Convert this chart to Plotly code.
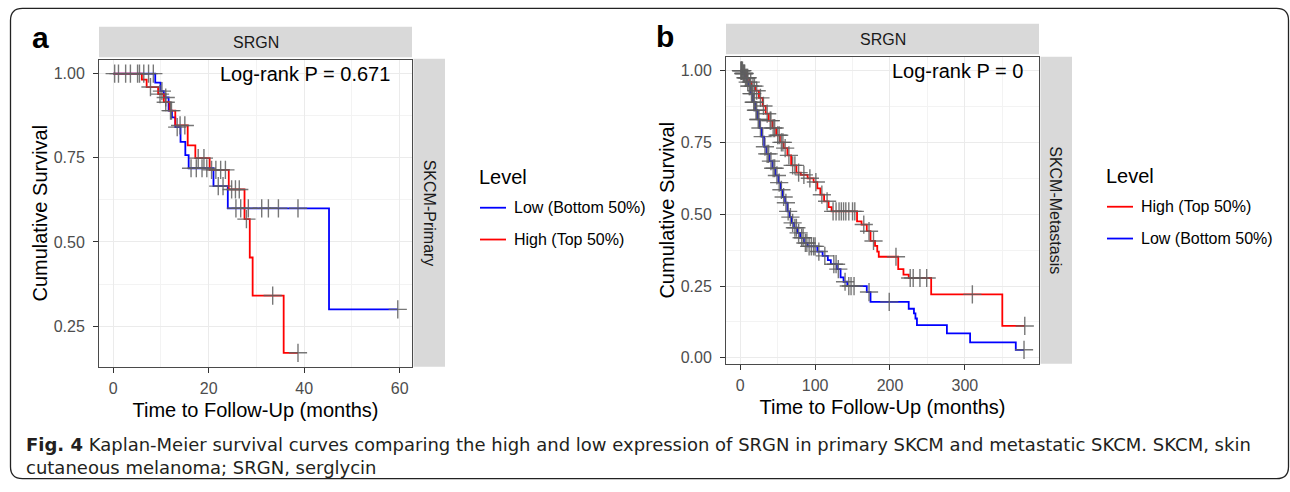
import plotly.graph_objects as go

W, H = 1290, 492

# ---------------- Data ----------------
# Panel a: SKCM-Primary (months, survival after each event)
a_low_t = [8.8, 9.9, 10.6, 11.6, 12.3, 13.0, 14.1, 15.1, 15.8, 21.0, 24.0, 45.2]
a_low_s = [0.973, 0.948, 0.929, 0.890, 0.870, 0.841, 0.797, 0.758, 0.719, 0.666, 0.600, 0.300]
a_low_cens = [0.3, 2.6, 5.1, 6.4, 7.4, 8.4, 10.2, 11.0, 12.0, 13.4, 16.3, 17.4, 18.6, 19.6,
              22.0, 23.0, 25.7, 26.7, 28.3, 31.1, 32.5, 34.6, 38.7, 59.6]

a_high_t = [6.0, 7.0, 9.4, 10.6, 11.8, 13.0, 15.6, 17.2, 20.2, 24.2, 27.5, 28.6, 29.2, 35.7]
a_high_s = [0.982, 0.960, 0.939, 0.915, 0.890, 0.846, 0.787, 0.749, 0.714, 0.656, 0.568,
            0.454, 0.341, 0.171]
a_high_cens = [1.1, 3.6, 5.5, 7.8, 9.8, 11.0, 12.2, 14.0, 15.0, 17.8, 19.0, 20.6, 21.5, 22.5,
               23.5, 24.8, 25.6, 26.4, 27.9, 33.4, 38.7]

# Panel b: SKCM-Metastasis
b_high_t = [4, 8, 12, 15, 20, 25, 30, 34, 38, 43, 48, 53, 58, 63, 68, 75, 81, 90, 98, 103,
            107, 112, 118, 122, 156, 162, 169, 174, 180, 183, 185, 211, 218, 225, 255, 350]
b_high_s = [0.990, 0.975, 0.960, 0.946, 0.930, 0.905, 0.877, 0.850, 0.826, 0.800, 0.775,
            0.750, 0.730, 0.705, 0.670, 0.645, 0.637, 0.625, 0.612, 0.590, 0.568, 0.545,
            0.525, 0.510, 0.475, 0.464, 0.441, 0.407, 0.390, 0.370, 0.352, 0.309, 0.290,
            0.278, 0.221, 0.111]
b_high_cens = [1, 2, 3, 5, 6, 9, 10, 14, 17, 19, 22, 27, 31, 36, 40, 41, 44, 46, 50, 52, 55,
               57, 60, 65, 70, 73, 78, 85, 93, 101, 109, 116, 124, 128, 132, 135, 138, 141,
               145, 150, 153, 165, 172, 178, 208, 227, 231, 240, 249, 310, 380]

b_low_t = [3, 6, 9, 11, 14, 17, 20, 23, 26, 29, 32, 35, 39, 43, 47, 51, 54, 57, 60, 63, 66,
           69, 72, 76, 80, 85, 90, 103, 110, 117, 121, 129, 134, 138, 143, 169, 174, 225,
           232, 234, 236, 276, 307, 368]
b_low_s = [0.990, 0.975, 0.960, 0.946, 0.920, 0.890, 0.862, 0.830, 0.800, 0.770, 0.735,
           0.710, 0.685, 0.660, 0.635, 0.610, 0.585, 0.560, 0.540, 0.510, 0.490, 0.470,
           0.453, 0.435, 0.418, 0.400, 0.388, 0.370, 0.355, 0.340, 0.326, 0.309, 0.280,
           0.265, 0.250, 0.229, 0.195, 0.171, 0.155, 0.137, 0.114, 0.085, 0.054, 0.028]
b_low_cens = [1, 2, 4, 5, 7, 8, 10, 12, 13, 15, 16, 18, 19, 21, 22, 24, 25, 27, 30, 33, 36,
              38, 41, 44, 46, 49, 52, 55, 58, 61, 64, 67, 70, 73, 75, 78, 82, 84, 87, 89, 92,
              95, 98, 100, 105, 113, 125, 128, 131, 140, 145, 148, 152, 172, 199, 379]

a_pvalue = "Log-rank P = 0.671"
b_pvalue = "Log-rank P = 0"
strip_top = "SRGN"
a_strip_right = "SKCM-Primary"
b_strip_right = "SKCM-Metastasis"
label_high = "High (Top 50%)"
label_low = "Low (Bottom 50%)"
x_title = "Time to Follow-Up (months)"
y_title = "Cumulative Survival"
a_xticks = [0, 20, 40, 60]
b_xticks = [0, 100, 200, 300]
a_yticks = [0.25, 0.50, 0.75, 1.00]
b_yticks = [0.00, 0.25, 0.50, 0.75, 1.00]

RED = "#FF0000"
BLUE = "#0000FF"
CENS = "rgba(95,95,95,0.85)"
FONT = "Liberation Sans, Arial, sans-serif"


def px(x):
    return x / W


def py(y):
    return 1 - y / H


def step_xy(times, surv, cens):
    t_end = max(max(cens), times[-1])
    xs = [0.0] + list(times) + [t_end]
    ys = [1.0] + list(surv) + [surv[-1]]
    return xs, ys


def surv_at(times, surv, t):
    s = 1.0
    for ti, si in zip(times, surv):
        if ti <= t:
            s = si
        else:
            break
    return s


fig = go.Figure()

groups = [
    ("x", "y", a_low_t, a_low_s, a_low_cens, BLUE, label_low),
    ("x", "y", a_high_t, a_high_s, a_high_cens, RED, label_high),
    ("x2", "y2", b_high_t, b_high_s, b_high_cens, RED, label_high),
    ("x2", "y2", b_low_t, b_low_s, b_low_cens, BLUE, label_low),
]
for xa, ya, t, s, c, col, name in groups:
    xs, ys = step_xy(t, s, c)
    fig.add_trace(go.Scatter(x=xs, y=ys, mode="lines", line=dict(color=col, width=1.8, shape="hv"),
                             name=name, xaxis=xa, yaxis=ya, showlegend=False, hoverinfo="skip"))
for xa, ya, t, s, c, col, name in groups:
    fig.add_trace(go.Scatter(x=c, y=[surv_at(t, s, ci) for ci in c], mode="markers",
                             marker=dict(symbol="cross-thin", size=13,
                                         line=dict(color=CENS, width=1.4), color=CENS),
                             xaxis=xa, yaxis=ya, showlegend=False, hoverinfo="skip"))


def xrange(*ts):
    m = max(max(v) for v in ts)
    return [-0.05 * m, 1.05 * m]


def yrange(*ss):
    m = min(min(v) for v in ss)
    d = 1 - m
    return [m - 0.05 * d, 1 + 0.05 * d]


pa = dict(x0=99, x1=412, y0=60, y1=369)
pb = dict(x0=726, x1=1039, y0=57, y1=366)

axis_common = dict(
    showline=True, mirror=True, linecolor="#4a4a4a", linewidth=1,
    showgrid=True, gridcolor="#EBEBEB", gridwidth=1.3,
    ticks="outside", ticklen=5, tickcolor="#333333", tickwidth=1,
    tickfont=dict(family=FONT, size=16, color="#4D4D4D"),
    zeroline=False, fixedrange=True,
    title_font=dict(family=FONT, size=20, color="#000000"),
)
xminor = dict(showgrid=True, gridcolor="#F3F3F3", gridwidth=0.8, ticks="")

fig.update_layout(
    xaxis=dict(domain=[px(pa["x0"]), px(pa["x1"])], anchor="y",
               range=xrange(a_low_cens, a_high_cens), tickvals=a_xticks, ticklabelstandoff=2,
               minor=dict(dtick=10, tick0=0, **xminor),
               title=dict(text=x_title, standoff=7), **axis_common),
    yaxis=dict(domain=[py(pa["y1"]), py(pa["y0"])], anchor="x",
               range=yrange(a_low_s, a_high_s), tickvals=a_yticks, tickformat=".2f",
               ticklabelstandoff=5,
               minor=dict(dtick=0.125, tick0=0, **xminor),
               title=dict(text=y_title, standoff=0), **axis_common),
    xaxis2=dict(domain=[px(pb["x0"]), px(pb["x1"])], anchor="y2",
                range=xrange(b_low_cens, b_high_cens), tickvals=b_xticks, ticklabelstandoff=2,
                minor=dict(dtick=50, tick0=0, **xminor),
                title=dict(text=x_title, standoff=7), **axis_common),
    yaxis2=dict(domain=[py(pb["y1"]), py(pb["y0"])], anchor="x2",
                range=yrange(b_low_s, b_high_s), tickvals=b_yticks, tickformat=".2f",
                ticklabelstandoff=5,
                minor=dict(dtick=0.125, tick0=0, **xminor),
                title=dict(text=y_title, standoff=0), **axis_common),
)

shapes = []
annotations = []

# Outer rounded frame
r = 12
L, T, R, B = 10.5, 8.5, 1288.5, 481.5
path = (f"M {px(L)},{py(B - r)} L {px(L)},{py(T + r)} "
        f"Q {px(L)},{py(T)} {px(L + r)},{py(T)} L {px(R - r)},{py(T)} "
        f"Q {px(R)},{py(T)} {px(R)},{py(T + r)} L {px(R)},{py(B - r)} "
        f"Q {px(R)},{py(B)} {px(R - r)},{py(B)} L {px(L + r)},{py(B)} "
        f"Q {px(L)},{py(B)} {px(L)},{py(B - r)} Z")
shapes.append(dict(type="path", path=path, xref="paper", yref="paper",
                   line=dict(color="#222222", width=1.3), fillcolor="rgba(0,0,0,0)", layer="below"))

STRIP = "#D9D9D9"
for p, strip_right, ry in [(pa, a_strip_right, (59, 369)), (pb, b_strip_right, (57, 366))]:
    shapes.append(dict(type="rect", xref="paper", yref="paper",
                       x0=px(p["x0"]), x1=px(p["x1"]), y0=py(p["y0"] - 2.5), y1=py(p["y0"] - 33),
                       fillcolor=STRIP, line=dict(width=0), layer="below"))
    annotations.append(dict(text=strip_top, xref="paper", yref="paper",
                            x=px((p["x0"] + p["x1"]) / 2), y=py(p["y0"] - 17.5),
                            showarrow=False, xanchor="center", yanchor="middle",
                            font=dict(family=FONT, size=16, color="#1A1A1A")))
    shapes.append(dict(type="rect", xref="paper", yref="paper",
                       x0=px(p["x1"] + 1.5), x1=px(p["x1"] + 33), y0=py(ry[1]), y1=py(ry[0]),
                       fillcolor=STRIP, line=dict(width=0), layer="below"))
    annotations.append(dict(text=strip_right, xref="paper", yref="paper",
                            x=px(p["x1"] + 17), y=py((ry[0] + ry[1]) / 2),
                            showarrow=False, textangle=90, xanchor="center", yanchor="middle",
                            font=dict(family=FONT, size=16, color="#1A1A1A")))

annotations.append(dict(text=a_pvalue, xref="x", yref="y", x=max(a_low_cens) - 1.2, y=1.0,
                        showarrow=False, xanchor="right", yanchor="middle",
                        font=dict(family=FONT, size=20, color="#000000")))
annotations.append(dict(text=b_pvalue, xref="x2", yref="y2", x=max(b_high_cens), y=1.0,
                        showarrow=False, xanchor="right", yanchor="middle",
                        font=dict(family=FONT, size=20, color="#000000")))

annotations.append(dict(text="<b>a</b>", xref="paper", yref="paper", x=px(40), y=py(38),
                        showarrow=False, xanchor="center", yanchor="middle",
                        font=dict(family=FONT, size=30, color="#000000")))
annotations.append(dict(text="<b>b</b>", xref="paper", yref="paper", x=px(665), y=py(37),
                        showarrow=False, xanchor="center", yanchor="middle",
                        font=dict(family=FONT, size=30, color="#000000")))

legends = [
    (477, 178, [(label_low, BLUE, 209), (label_high, RED, 241)]),
    (1104, 177, [(label_high, RED, 208), (label_low, BLUE, 240)]),
]
for lx, ty, items in legends:
    annotations.append(dict(text="Level", xref="paper", yref="paper", x=px(lx), y=py(ty),
                            showarrow=False, xanchor="left", yanchor="middle",
                            font=dict(family=FONT, size=20, color="#000000")))
    for lab, col, iy in items:
        shapes.append(dict(type="line", xref="paper", yref="paper",
                           x0=px(lx + 3), x1=px(lx + 29), y0=py(iy), y1=py(iy),
                           line=dict(color=col, width=1.8)))
        annotations.append(dict(text=lab, xref="paper", yref="paper", x=px(lx + 35), y=py(iy),
                                showarrow=False, xanchor="left", yanchor="middle",
                                font=dict(family=FONT, size=16, color="#000000")))

caption = ("<b>Fig. 4</b> Kaplan-Meier survival curves comparing the high and low expression of SRGN "
           "in primary SKCM and metastatic SKCM. SKCM, skin<br>cutaneous melanoma; SRGN, serglycin")
annotations.append(dict(text=caption, xref="paper", yref="paper", x=px(24), y=py(435),
                        showarrow=False, xanchor="left", yanchor="top", align="left",
                        font=dict(family="DejaVu Sans, sans-serif", size=18, color="#231F20")))

fig.update_layout(
    width=W, height=H, autosize=False,
    margin=dict(l=0, r=0, t=0, b=0),
    paper_bgcolor="white", plot_bgcolor="white",
    showlegend=False,
    shapes=shapes, annotations=annotations,
)

fig.write_html("out.html", config={"displayModeBar": False},
               post_script="document.body.style.margin='0px';document.body.style.overflow='hidden';")
